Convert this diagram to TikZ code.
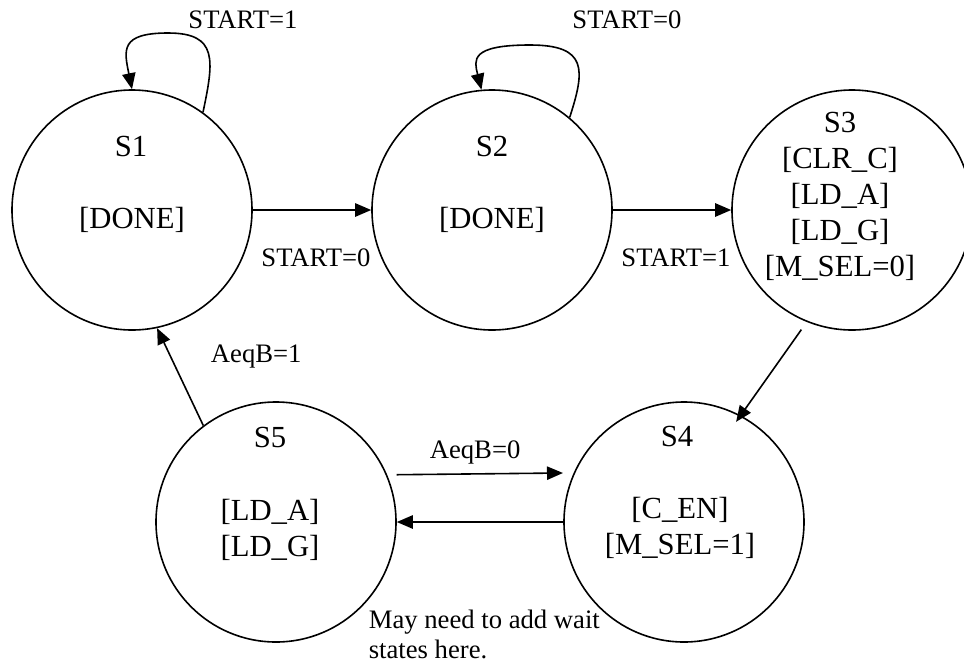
\documentclass[tikz,border=0pt]{standalone}
\usepackage{fontspec}
\setmainfont{Liberation Serif}
\usetikzlibrary{arrows.meta}
\begin{document}
\begin{tikzpicture}[x=0.75pt,y=-0.75pt,line width=1.2pt,
  state/.style={draw,circle,minimum size=180pt,inner sep=0pt},
  stxt/.style={align=center,inner sep=0pt,font=\fontsize{23}{27}\selectfont},
  lbl/.style={inner sep=0pt,font=\fontsize{20}{23}\selectfont},
  tr/.style={-{Triangle[length=12pt,width=10pt]}}]
 \useasboundingbox (0,0) rectangle (964,669);
 \node[state] (s1) at (132,210) {};
 \node[state] (s2) at (492,210) {};
 \node[state] (s3) at (852,210) {};
 \node[state] (s4) at (684,522) {};
 \node[state] (s5) at (276,522) {};
 \node[stxt] (s1name) at (131,146) {S1};
 \node[stxt] (s1act) at (132,220) {[DONE]};
 \node[stxt] (s2name) at (492,146) {S2};
 \node[stxt] (s2act) at (492,220) {[DONE]};
 \node[stxt] (s3act) at (840,196) {S3\\{[CLR\_C]}\\{[LD\_A]}\\{[LD\_G]}\\{[M\_SEL=0]}};
 \node[stxt] (s4name) at (677,436) {S4};
 \node[stxt] (s4act) at (680,528) {[C\_EN]\\{[M\_SEL=1]}};
 \node[stxt] (s5name) at (270,437) {S5};
 \node[stxt] (s5act) at (270,530) {[LD\_A]\\{[LD\_G]}};
 \draw[tr] (s1.54) .. controls (214,60) and (218,33) .. (168,33) .. controls (120,33) and (124,50) .. (s1.north);
 \node[lbl] (l11) at (243,20) {START=1};
 \draw[tr] (s2.50) .. controls (585,70) and (588,45) .. (530,45) .. controls (470,45) and (474,60) .. (s2.95);
 \node[lbl] (l22) at (627,20) {START=0};
 \draw[tr] (s1.east) -- node[lbl,xshift=3pt,yshift=-36pt] (l12) {START=0} (s2.west);
 \draw[tr] (s2.east) -- node[lbl,xshift=3pt,yshift=-36pt] (l23) {START=1} (s3.west);
 \draw[tr,shorten <=7pt,shorten >=-6pt] (s3.248) -- (s4.62);
 \draw[tr] (s4.west) -- (s5.east);
 \draw[tr,shorten <=7pt,shorten >=8pt] (s5.23.6) -- node[lbl,xshift=-4pt,yshift=16pt] (l54) {AeqB=0} (s4.156.4);
 \draw[tr] (s5.127) -- node[lbl,xshift=57pt,yshift=15pt] (l51) {AeqB=1} (s1.282);
 \node[lbl,align=left,anchor=north west] (note) at (368,609) {May need to add wait\\states here.};
\end{tikzpicture}
\end{document}
